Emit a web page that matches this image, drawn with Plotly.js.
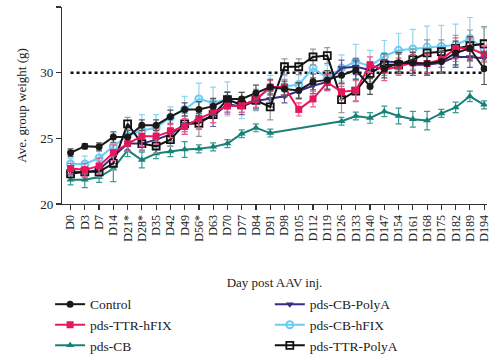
<!DOCTYPE html>
<html>
<head>
<meta charset="utf-8">
<script src="https://cdn.plot.ly/plotly-3.0.1.min.js"></script>
<style>html,body{margin:0;padding:0;background:#fff;}#chart{width:500px;height:354px;}</style>
</head>
<body>
<div id="chart"></div>
<script>
const categories = ["D0","D3","D7","D14","D21*","D28*","D35","D42","D49","D56*","D63","D70","D77","D84","D91","D98","D105","D112","D119","D126","D133","D140","D147","D154","D161","D168","D175","D182","D189","D194"];

const control = [23.9,24.4,24.35,25.1,25.1,26.0,26.0,26.65,27.2,27.2,27.45,28.0,28.0,28.45,28.9,28.75,28.65,29.3,29.45,29.8,30.2,28.95,30.3,30.75,30.75,30.7,30.85,31.5,31.85,30.3];
const controlErr = [0.3,0.2,0.3,0.4,0.5,0.4,0.4,0.5,0.5,0.6,0.6,0.5,0.5,0.6,0.6,0.6,0.6,0.6,0.7,0.6,0.7,0.6,0.7,0.8,0.8,0.8,0.8,0.9,0.9,1.2];

const ttrHFIX = [22.7,22.6,22.9,23.9,24.6,25.15,25.15,25.55,25.9,26.5,27.0,27.45,27.5,27.95,28.9,28.9,27.2,28.0,29.25,28.55,28.65,30.6,30.2,30.5,30.75,30.7,31.0,31.85,31.85,31.4];
const ttrHFIXErr = [0.4,0.5,0.6,0.6,0.6,0.8,0.6,0.5,0.6,0.7,0.8,0.6,0.5,0.6,0.5,0.6,0.5,0.6,0.6,0.6,0.8,0.6,0.8,0.6,0.6,0.7,0.6,0.8,0.8,0.6];

const pdsCB = [21.85,21.85,22.05,22.7,24.1,23.35,23.85,24.0,24.15,24.2,24.35,24.6,25.35,25.8,25.4,null,null,null,null,26.3,26.7,26.55,27.05,26.7,26.45,26.35,26.9,27.35,28.2,27.55];
const pdsCBErr = [0.4,0.6,0.4,1.0,0.5,0.6,0.4,0.4,0.6,0.3,0.3,0.3,0.3,0.3,0.3,null,null,null,null,0.3,0.3,0.4,0.4,0.6,0.6,0.7,0.3,0.4,0.4,0.3];

const cbPolyA = [22.5,22.4,22.6,23.6,24.6,24.6,24.9,25.3,26.1,26.3,26.7,27.6,27.4,27.85,28.0,28.2,28.6,29.0,29.3,30.35,30.45,30.2,30.85,30.8,30.6,30.6,30.75,31.2,31.2,31.1];
const cbPolyAErr = [0.3,0.4,0.4,0.5,0.5,0.5,0.5,0.5,0.6,0.6,0.8,0.6,0.6,0.6,0.6,0.5,0.6,0.6,0.6,0.6,0.6,0.6,0.6,0.7,0.8,0.8,0.8,0.8,0.8,0.8];

const cbHFIX = [23.05,23.05,23.5,24.4,25.2,25.6,25.8,26.6,27.2,28.0,27.7,28.0,27.5,27.95,28.8,28.95,29.1,30.35,29.6,30.35,30.85,30.5,31.25,31.7,31.8,31.95,32.0,32.1,32.6,31.8];
const cbHFIXErr = [0.4,0.6,0.6,1.0,0.8,1.2,1.0,0.8,1.0,1.2,1.2,1.3,1.0,0.8,1.0,0.8,1.0,0.9,1.0,1.0,1.3,1.2,1.2,1.3,1.5,1.6,1.6,1.6,1.6,1.6];

const ttrPolyA = [22.3,22.45,22.45,23.1,26.1,24.6,24.4,24.9,26.1,26.15,26.8,27.95,27.55,27.9,27.4,30.45,30.45,31.2,31.3,27.95,28.6,29.95,30.6,30.6,31.0,31.5,31.6,31.85,32.05,32.2];
const ttrPolyAErr = [0.3,0.4,0.4,0.5,0.5,0.6,0.5,0.5,0.8,1.0,0.6,0.6,0.6,0.8,1.0,0.6,0.6,0.6,0.6,1.0,0.8,0.8,0.8,0.8,0.8,1.0,0.9,1.0,1.2,1.3];

const referenceLine = 30;

function trace(name, y, err, color, errColor, symbol, legend, rank, extraMarker) {
  return {
    type: 'scatter', mode: 'lines+markers', name: name,
    x: categories, y: y, connectgaps: true, legend: legend, legendrank: rank,
    line: {color: color, width: 2},
    marker: Object.assign({color: color, size: 7, symbol: symbol}, extraMarker || {}),
    error_y: {type: 'data', array: err, visible: true, color: errColor, thickness: 1.2, width: 3}
  };
}

const data = [
  trace('pds-CB', pdsCB, pdsCBErr, '#168079', '#3a9a92', 'triangle-up', 'legend', 3),
  trace('pds-CB-hFIX', cbHFIX, cbHFIXErr, '#6ccbf3', '#8fd6f5', 'circle-open', 'legend2', 2, {line: {width: 2, color: '#6ccbf3'}}),
  trace('pds-CB-PolyA', cbPolyA, cbPolyAErr, '#3b2a85', '#6a5aa8', 'triangle-down', 'legend2', 1),
  trace('pds-TTR-PolyA', ttrPolyA, ttrPolyAErr, '#111111', '#999999', 'square-open', 'legend2', 3, {line: {width: 1.8, color: '#111111'}}),
  trace('pds-TTR-hFIX', ttrHFIX, ttrHFIXErr, '#e8175d', '#ee5a8a', 'square', 'legend', 2),
  trace('Control', control, controlErr, '#1a1a1a', '#555555', 'circle', 'legend', 1)
];

const font = "Liberation Serif, Times New Roman, serif";
const layout = {
  width: 500, height: 354,
  margin: {l: 62, r: 13, t: 7, b: 150, autoexpand: false},
  paper_bgcolor: '#fff', plot_bgcolor: '#fff',
  font: {family: font, size: 13, color: '#222'},
  showlegend: true,
  xaxis: {
    type: 'category', range: [-0.6, 29.2],
    showline: true, linecolor: '#333', linewidth: 1.2,
    ticks: 'outside', ticklen: 5, tickcolor: '#333', tickwidth: 1.2,
    tickangle: -90, tickfont: {family: font, size: 12, color: '#222'},
    showgrid: false, zeroline: false,
    title: {text: 'Day post AAV inj.', font: {family: font, size: 13, color: '#222'}, standoff: 37}
  },
  yaxis: {
    range: [20, 35], tickvals: [20, 25, 30, 35],
    showline: true, linecolor: '#333', linewidth: 1.2,
    ticks: 'outside', ticklen: 5, tickcolor: '#333', tickwidth: 1.2,
    tickfont: {family: font, size: 13, color: '#222'},
    showgrid: false, zeroline: false,
    title: {text: 'Ave. group weight (g)', font: {family: font, size: 13, color: '#222'}, standoff: 10}
  },
  shapes: [{
    type: 'line', xref: 'x', yref: 'y', x0: 0, x1: 29, y0: referenceLine, y1: referenceLine,
    line: {color: '#111', width: 2.5, dash: 'dot'}, layer: 'below'
  }],
  legend: {
    x: -0.028, y: -0.431, xanchor: 'left', yanchor: 'top', orientation: 'v',
    traceorder: 'normal', font: {family: font, size: 13.5, color: '#222'},
    bgcolor: 'rgba(0,0,0,0)'
  },
  legend2: {
    x: 0.489, y: -0.431, xanchor: 'left', yanchor: 'top', orientation: 'v',
    traceorder: 'normal', font: {family: font, size: 13.5, color: '#222'},
    bgcolor: 'rgba(0,0,0,0)'
  }
};

Plotly.newPlot('chart', data, layout, {displayModeBar: false, staticPlot: true});
</script>
</body>
</html>
